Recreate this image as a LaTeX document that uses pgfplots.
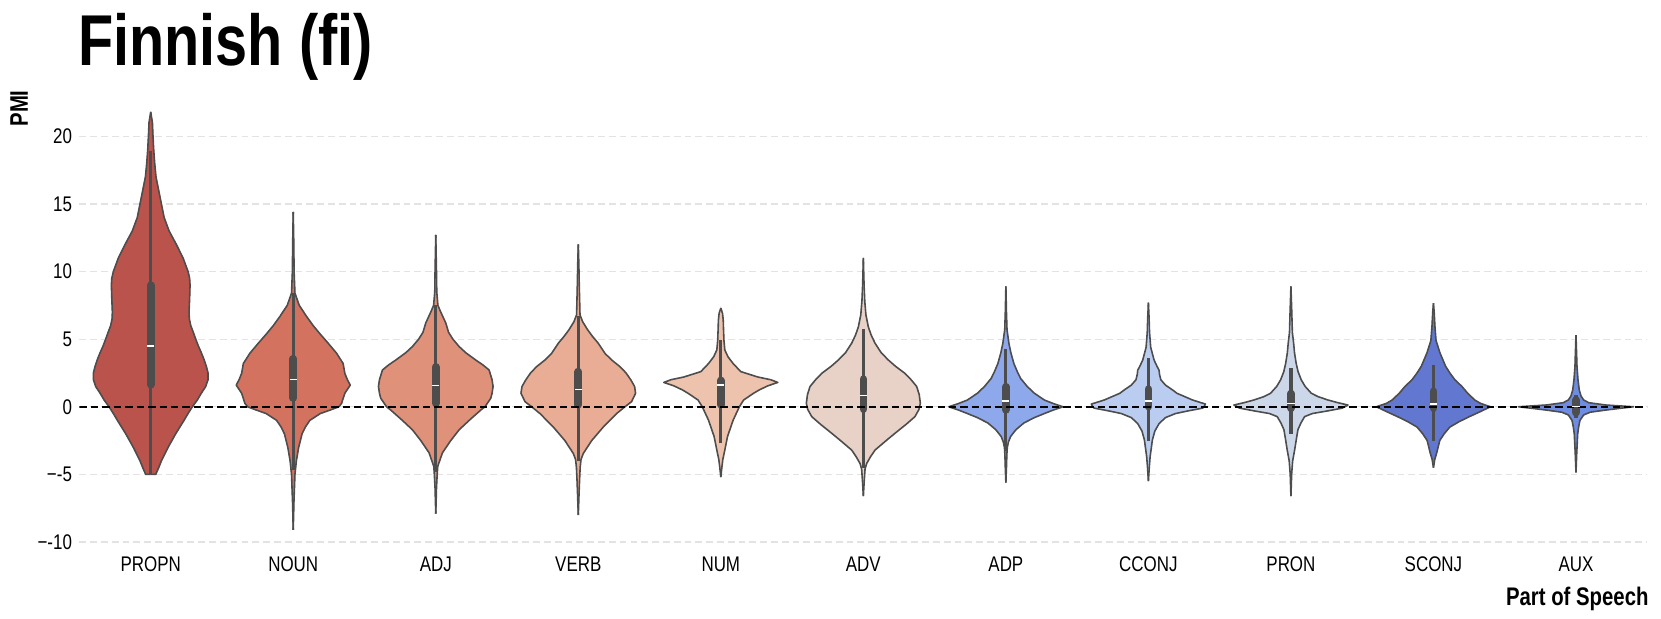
\documentclass[border=0pt]{standalone}
\usepackage{fontspec}
\setmainfont{Liberation Sans}[FakeStretch=0.8]
\usepackage{pgfplots}
\usepackage{pgfplotstable}
\pgfplotsset{compat=1.18}

\definecolor{cPROPN}{HTML}{BA534B}
\definecolor{cNOUN}{HTML}{D3735F}
\definecolor{cADJ}{HTML}{E0917A}
\definecolor{cVERB}{HTML}{E9AC94}
\definecolor{cNUM}{HTML}{EEC3AE}
\definecolor{cADV}{HTML}{E8D2C7}
\definecolor{cADP}{HTML}{8EA8EC}
\definecolor{cCCONJ}{HTML}{BACDF1}
\definecolor{cPRON}{HTML}{CCD8EA}
\definecolor{cSCONJ}{HTML}{6277CF}
\definecolor{cAUX}{HTML}{6E8CE2}
\definecolor{outl}{HTML}{4D4D4D}
\definecolor{gridc}{HTML}{E3E3E3}

% violin half-widths (x units) against PMI
\pgfplotstableread{
y w
-5.0 0.0
-5.0 0.035
-4.5 0.056
-4.0 0.075
-3.0 0.122
-2.0 0.175
-1.0 0.234
-0.5 0.262
0.0 0.292
0.5 0.327
1.0 0.355
1.5 0.386
2.0 0.402
2.5 0.402
3.0 0.390
3.5 0.374
4.0 0.355
4.5 0.334
5.0 0.316
5.5 0.299
6.0 0.281
6.5 0.271
7.0 0.269
8.0 0.273
9.0 0.276
9.5 0.273
10.0 0.262
11.0 0.227
12.0 0.180
13.0 0.129
14.0 0.094
15.0 0.075
16.0 0.056
17.0 0.037
18.0 0.028
19.0 0.021
20.0 0.016
21.0 0.012
21.8 0.0
}\tPROPN

\pgfplotstableread{
y w
-9.1 0
-7 0.005
-5 0.012
-4 0.022
-3 0.038
-2 0.062
-1.5 0.085
-1 0.117
-0.5 0.19
-0.2 0.27
0 0.32
0.25 0.339
1.0 0.362
1.6 0.400
2.0 0.380
2.47 0.362
3.2 0.350
3.96 0.304
4.7 0.245
5.4 0.187
6.0 0.140
6.67 0.094
7.5 0.042
8.4 0.012
10 0.006
12 0.004
14.4 0
}\tNOUN

\pgfplotstableread{
y w
-7.9 0
-6 0.005
-5 0.010
-4.4 0.014
-3.4 0.047
-2.5 0.105
-1.7 0.164
-1.0 0.235
-0.24 0.316
0.0 0.345
0.63 0.386
1.0 0.395
1.5 0.402
2.0 0.395
2.72 0.374
3.1 0.33
3.46 0.28
4.0 0.21
4.45 0.164
5.0 0.12
5.5 0.09
6.2 0.07
7.0 0.035
7.5 0.015
8.5 0.007
10 0.005
12.7 0
}\tADJ

\pgfplotstableread{
y w
-8.0 0
-6.5 0.005
-5.4 0.009
-4.5 0.013
-3.9 0.019
-3.45 0.035
-2.5 0.094
-1.5 0.175
-0.5 0.269
0 0.327
0.38 0.374
1.0 0.402
1.5 0.395
1.98 0.369
2.5 0.335
2.97 0.292
3.45 0.235
3.95 0.187
4.7 0.140
5.2 0.10
5.7 0.065
6.3 0.030
6.8 0.012
8.9 0.007
10.5 0.004
12.0 0
}\tVERB

\pgfplotstableread{
y w
-5.2 0
-4.5 0.007
-3.9 0.014
-3.2 0.028
-2.2 0.047
-1.0 0.086
0.0 0.13
0.5 0.16
1.0 0.23
1.25 0.27
1.55 0.33
1.8 0.40
2.0 0.35
2.2 0.26
2.6 0.14
3.2 0.086
3.7 0.05
4.2 0.028
4.9 0.022
5.7 0.019
6.4 0.017
6.9 0.012
7.3 0
}\tNUM

\pgfplotstableread{
y w
-6.6 0
-5.5 0.006
-4.6 0.012
-4.2 0.023
-3.7 0.05
-3.2 0.082
-2.5 0.16
-1.96 0.222
-1.3 0.30
-0.73 0.362
-0.2 0.39
0.26 0.400
0.9 0.392
1.5 0.374
2.0 0.335
2.47 0.292
3.0 0.225
3.46 0.175
4.0 0.125
4.7 0.082
5.3 0.055
5.9 0.035
6.8 0.018
7.8 0.010
9 0.005
11.0 0
}\tADV

\pgfplotstableread{
y w
-5.6 0
-4.5 0.004
-3.5 0.007
-3.0 0.010
-2.6 0.018
-2.2 0.033
-1.7 0.07
-1.2 0.126
-0.8 0.20
-0.5 0.27
-0.25 0.33
0.0 0.400
0.25 0.33
0.5 0.27
1.0 0.20
1.5 0.15
2.1 0.103
2.6 0.08
3.2 0.056
4.0 0.035
4.7 0.021
5.7 0.008
7.0 0.004
8.9 0
}\tADP

\pgfplotstableread{
y w
-5.5 0
-4.5 0.006
-3.7 0.012
-2.45 0.028
-1.8 0.045
-1.24 0.075
-0.8 0.12
-0.5 0.19
-0.3 0.28
-0.1 0.38
0.0 0.39
0.2 0.400
0.5 0.31
1.0 0.20
1.24 0.17
1.6 0.12
2.0 0.087
2.4 0.078
2.7 0.075
3.0 0.06
3.45 0.04
4.4 0.016
5.5 0.008
6.5 0.005
7.7 0
}\tCCONJ

\pgfplotstableread{
y w
-6.6 0
-5 0.005
-4 0.012
-3.2 0.026
-2.4 0.038
-1.7 0.049
-1.2 0.07
-0.73 0.096
-0.5 0.15
-0.3 0.26
-0.1 0.36
0.13 0.400
0.3 0.33
0.5 0.26
0.75 0.19
1.0 0.143
1.5 0.10
2.0 0.072
2.6 0.05
3.2 0.037
4.0 0.025
4.7 0.019
5.5 0.010
7.0 0.006
8.9 0
}\tPRON

\pgfplotstableread{
y w
-4.5 0
-3.9 0.009
-3.4 0.023
-2.5 0.044
-2.0 0.075
-1.5 0.115
-1.1 0.18
-0.74 0.25
-0.4 0.32
-0.2 0.36
0.0 0.400
0.25 0.33
0.5 0.29
1.0 0.24
1.5 0.20
2.0 0.15
2.5 0.115
3.0 0.085
3.5 0.065
4.0 0.045
4.9 0.018
6.0 0.010
7.0 0.005
7.65 0
}\tSCONJ

\pgfplotstableread{
y w
-4.85 0
-3.5 0.005
-2.0 0.012
-1.47 0.019
-1.0 0.028
-0.6 0.054
-0.4 0.10
-0.24 0.21
-0.1 0.32
0.0 0.404
0.13 0.21
0.3 0.09
0.5 0.054
0.8 0.035
1.24 0.023
2.0 0.014
3.0 0.007
4.0 0.004
5.3 0
}\tAUX

% #1 position, #2 table, #3 colour, #4 lower whisker, #5 q1, #6 median, #7 q3, #8 upper whisker
\newcommand{\violin}[8]{%
  \addplot[fill=#3, draw=#3, line width=0.3pt] table[x expr=#1+\thisrow{w}, y=y] {#2} -- cycle;
  \addplot[fill=#3, draw=#3, line width=0.3pt] table[x expr=#1-\thisrow{w}, y=y] {#2} -- cycle;
  \addplot[draw=outl, line width=0.75pt, line join=round] table[x expr=#1+\thisrow{w}, y=y] {#2};
  \addplot[draw=outl, line width=0.75pt, line join=round] table[x expr=#1-\thisrow{w}, y=y] {#2};
  \addplot[draw=outl, line width=1.5pt] coordinates {(#1,#4) (#1,#8)};
  \addplot[draw=outl, line width=3.6pt, line cap=round] coordinates {(#1,#5) (#1,#7)};
  \addplot[white, only marks, mark=-, mark size=1.7pt, mark options={line width=0.65pt}] coordinates {(#1,#6)};
}

\begin{document}
\begin{tikzpicture}
\path[use as bounding box] (-37.5pt,-33.6pt) rectangle (746.5pt,258.4pt);
\begin{axis}[
  at={(0,0)}, anchor=south west,
  scale only axis,
  width=740pt, height=210.05pt,
  xmin=-0.5, xmax=10.5,
  ymin=-10.4, ymax=22.5,
  axis line style={draw=none},
  major tick length=0pt,
  xtick={0,1,2,3,4,5,6,7,8,9,10},
  xticklabels={PROPN,NOUN,ADJ,VERB,NUM,ADV,ADP,CCONJ,PRON,SCONJ,AUX},
  ytick={-10,-5,0,5,10,15,20},
  ymajorgrids,
  grid style={draw=gridc, line width=0.6pt, dash pattern=on 3.2pt off 1.9pt},
  tick label style={font=\fontsize{10}{12}\selectfont},
  xticklabel style={yshift=-1pt},
  /pgf/number format/assume math mode=true,
  yticklabel={\ifdim\tick pt<0pt \textminus\pgfmathprintnumber[assume math mode=true]{\tick}\else\pgfmathprintnumber[assume math mode=true]{\tick}\fi},
]
\violin{0}{\tPROPN}{cPROPN}{-5}{1.63}{4.5}{8.99}{18.9}
\violin{1}{\tNOUN}{cNOUN}{-4.7}{0.65}{2.03}{3.55}{8.4}
\violin{2}{\tADJ}{cADJ}{-4.8}{0.25}{1.56}{2.95}{7.5}
\violin{3}{\tVERB}{cVERB}{-4.0}{0.15}{1.3}{2.6}{6.7}
\violin{4}{\tNUM}{cNUM}{-2.7}{0.15}{1.6}{1.95}{4.9}
\violin{5}{\tADV}{cADV}{-4.5}{-0.18}{0.83}{2.05}{5.75}
\violin{6}{\tADP}{cADP}{-3.3}{-0.23}{0.43}{1.48}{4.25}
\violin{7}{\tCCONJ}{cCCONJ}{-2.5}{0.01}{0.43}{1.31}{3.6}
\violin{8}{\tPRON}{cPRON}{-2.0}{-0.11}{0.26}{0.98}{2.85}
\violin{9}{\tSCONJ}{cSCONJ}{-2.5}{-0.11}{0.2}{1.15}{3.1}
\violin{10}{\tAUX}{cAUX}{-0.8}{-0.43}{0.0}{0.5}{0.85}
\addplot[black, line width=0.9pt, dash pattern=on 3.5pt off 1.9pt] coordinates {(-0.5,0) (10.5,0)};
\end{axis}
\node[anchor=base west, inner sep=0pt, font=\fontsize{34}{37}\selectfont\bfseries] at (-0.8pt,227.7pt) {Finnish (fi)};
\node[rotate=90, inner sep=0pt, font=\fontsize{12}{14}\selectfont\bfseries] at (-28.5pt,207.2pt) {PMI};
\node[anchor=base east, inner sep=0pt, font=\fontsize{12}{14}\selectfont\bfseries] at (740.8pt,-27.6pt) {Part of Speech};
\end{tikzpicture}
\end{document}
